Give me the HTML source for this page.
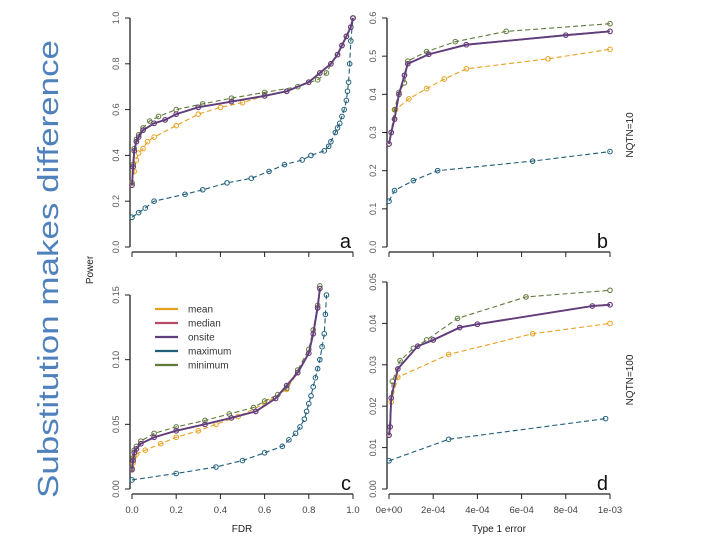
<!DOCTYPE html>
<html><head><meta charset="utf-8"><style>
body{margin:0;background:#fff;}
svg{display:block;font-family:"Liberation Sans",sans-serif;}
</style></head><body>
<svg id="chart" width="720" height="540" viewBox="0 0 720 540" xmlns="http://www.w3.org/2000/svg">
<text x="0" y="0" transform="translate(58,269) rotate(-90)" text-anchor="middle" font-size="29" fill="#4f81bd" textLength="458" lengthAdjust="spacingAndGlyphs">Substitution makes difference</text>
<text transform="translate(93,270) rotate(-90)" text-anchor="middle" font-size="10" fill="#222">Power</text>
<text x="242" y="532" text-anchor="middle" font-size="10" fill="#222">FDR</text>
<text x="499" y="532" text-anchor="middle" font-size="10" fill="#222">Type 1 error</text>
<text transform="translate(633,135) rotate(-90)" text-anchor="middle" font-size="10" fill="#222">NQTN=10</text>
<text transform="translate(633,380) rotate(-90)" text-anchor="middle" font-size="10" fill="#222">NQTN=100</text>
<g id="plots"></g>
</svg>
<script>
const seriesNames = ["mean","median","onsite","maximum","minimum"];
const seriesColors = ["#e8a020","#b84a68","#5e3f7e","#1f5f7a","#5f7a3a"];
// Panel a (FDR vs power, NQTN=10)
const aMeanX=[0,0.01,0.02,0.03,0.05,0.07,0.1,0.2,0.3,0.4,0.5,0.6,0.7,0.8,0.85,0.9,0.93,0.95,0.97,0.99,1];
const aMeanY=[0.28,0.33,0.38,0.41,0.43,0.46,0.48,0.53,0.58,0.61,0.63,0.66,0.68,0.72,0.76,0.8,0.84,0.88,0.92,0.96,1];
const aOnsiteX=[0,0.005,0.01,0.02,0.03,0.05,0.1,0.15,0.2,0.3,0.45,0.6,0.7,0.8,0.85,0.9,0.93,0.95,0.97,0.99,1];
const aOnsiteY=[0.27,0.35,0.42,0.46,0.48,0.51,0.54,0.555,0.58,0.61,0.635,0.66,0.68,0.72,0.76,0.8,0.84,0.88,0.92,0.96,1];
const aMinX=[0,0.005,0.01,0.02,0.03,0.05,0.08,0.12,0.2,0.32,0.45,0.6,0.75,0.84,0.88,0.9,0.93,0.95,0.97,0.99,1];
const aMinY=[0.28,0.36,0.43,0.47,0.49,0.52,0.55,0.57,0.6,0.625,0.65,0.675,0.7,0.73,0.76,0.8,0.84,0.88,0.92,0.96,1];
const aMaxX=[0,0.03,0.06,0.1,0.24,0.32,0.43,0.54,0.62,0.69,0.77,0.81,0.87,0.89,0.9,0.92,0.93,0.94,0.95,0.96,0.97,0.975,0.98,0.985,0.99,1];
const aMaxY=[0.13,0.15,0.17,0.2,0.23,0.25,0.28,0.3,0.33,0.36,0.38,0.4,0.42,0.44,0.46,0.5,0.52,0.54,0.57,0.6,0.64,0.68,0.72,0.8,0.9,1];
// Panel b (Type 1 error in 1e-4 units vs power, NQTN=10)
const bMeanX=[0,0.1,0.3,0.9,1.7,2.5,3.5,7.2,10];
const bMeanY=[0.27,0.3,0.36,0.388,0.415,0.44,0.467,0.493,0.518];
const bOnsiteX=[0,0.1,0.25,0.45,0.7,0.85,1.8,3.5,8,10];
const bOnsiteY=[0.27,0.3,0.335,0.4,0.45,0.48,0.505,0.53,0.555,0.565];
const bMinX=[0,0.1,0.25,0.45,0.7,0.85,1.7,3.0,5.3,10];
const bMinY=[0.27,0.3,0.36,0.405,0.43,0.487,0.512,0.538,0.565,0.585];
const bMaxX=[0,0.25,1.1,2.2,6.5,10];
const bMaxY=[0.12,0.148,0.174,0.2,0.225,0.25];
// Panel c (FDR vs power, NQTN=100)
const cMeanX=[0,0.005,0.01,0.02,0.06,0.13,0.2,0.3,0.38,0.48,0.6,0.7,0.75,0.8,0.82,0.84,0.85];
const cMeanY=[0.015,0.02,0.025,0.027,0.03,0.035,0.04,0.045,0.05,0.056,0.066,0.077,0.09,0.105,0.12,0.14,0.155];
const cOnsiteX=[0,0.005,0.01,0.02,0.04,0.1,0.2,0.33,0.45,0.56,0.65,0.7,0.75,0.8,0.82,0.84,0.85];
const cOnsiteY=[0.015,0.022,0.028,0.031,0.035,0.04,0.045,0.05,0.055,0.06,0.07,0.08,0.09,0.105,0.12,0.14,0.155];
const cMinX=[0,0.005,0.01,0.02,0.04,0.1,0.2,0.33,0.44,0.55,0.6,0.66,0.7,0.75,0.8,0.82,0.84,0.85];
const cMinY=[0.016,0.024,0.03,0.033,0.037,0.043,0.048,0.053,0.058,0.063,0.068,0.073,0.078,0.092,0.108,0.123,0.142,0.157];
const cMaxX=[0,0.2,0.38,0.5,0.6,0.68,0.71,0.74,0.76,0.78,0.79,0.8,0.81,0.82,0.83,0.84,0.85,0.86,0.87,0.875,0.88];
const cMaxY=[0.007,0.012,0.017,0.022,0.028,0.033,0.038,0.043,0.048,0.054,0.06,0.066,0.072,0.079,0.086,0.093,0.1,0.11,0.12,0.135,0.15];
// Panel d (Type 1 error in 1e-4 units vs power, NQTN=100)
const dMeanX=[0,0.1,0.4,2.7,6.5,10];
const dMeanY=[0.013,0.021,0.027,0.0325,0.0375,0.04];
const dOnsiteX=[0,0.05,0.1,0.4,1.3,2,3.2,4,9.2,10];
const dOnsiteY=[0.013,0.015,0.022,0.029,0.0345,0.036,0.039,0.0398,0.0442,0.0445];
const dMinX=[0,0.15,0.5,1.1,1.7,3.1,6.2,10];
const dMinY=[0.013,0.026,0.031,0.034,0.036,0.0412,0.0464,0.048];
const dMaxX=[0,2.7,9.8];
const dMaxY=[0.0068,0.012,0.017];
const fdrTicks=["0.0","0.2","0.4","0.6","0.8","1.0"];
const t1Ticks=["0e+00","2e-04","4e-04","6e-04","8e-04","1e-03"];
const aYTicks=["0.0","0.2","0.4","0.6","0.8","1.0"];
const bYTicks=["0.0","0.1","0.2","0.3","0.4","0.5","0.6"];
const cYTicks=["0.00","0.05","0.10","0.15"];
const dYTicks=["0.00","0.01","0.02","0.03","0.04","0.05"];

const NS="http://www.w3.org/2000/svg";
const root=document.getElementById("plots");
function mk(tag,attrs,parent){const e=document.createElementNS(NS,tag);for(const k in attrs)e.setAttribute(k,attrs[k]);parent.appendChild(e);return e;}

function panel(p){
  const g=mk("g",{},root);
  
  
  const sx=v=>p.x0+(v-p.xmin)/(p.xmax-p.xmin)*(p.x1-p.x0);
  const sy=v=>p.y0-(v-p.ymin)/(p.ymax-p.ymin)*(p.y0-p.y1);
  const ya=mk("line",{x1:p.x0-2,x2:p.x0-2,y1:sy(p.ymin),y2:sy(p.ymax),stroke:"#222","stroke-width":1.3},g);
  
  
  p.yTicks.forEach((t,i)=>{
    const v=p.ymin+i*(p.ymax-p.ymin)/(p.yTicks.length-1);
    mk("line",{x1:p.x0-7,x2:p.x0-2,y1:sy(v),y2:sy(v),stroke:"#222","stroke-width":1},g);
    const tx=mk("text",{transform:`translate(${p.x0-13},${sy(v)}) rotate(-90)`,"text-anchor":"middle","font-size":9,fill:"#555"},g);
    tx.textContent=t;
    
    
  });
  const xa=mk("line",{x1:sx(p.xmin),x2:sx(p.xmax),y1:p.y0+5,y2:p.y0+5,stroke:"#222","stroke-width":1.3},g);
  
  
  p.xTicks.forEach((t,i)=>{
    const v=p.xmin+i*(p.xmax-p.xmin)/(p.xTicks.length-1);
    mk("line",{x1:sx(v),x2:sx(v),y1:p.y0+5,y2:p.y0+10,stroke:"#222","stroke-width":1},g);
    if(p.showX){
      const tx=mk("text",{x:sx(v),y:p.y0+24,"text-anchor":"middle","font-size":9.5,fill:"#444"},g);
      tx.textContent=t;
      
      
    }
  });
  const lt=mk("text",{x:sx(p.xmax)-2,y:p.y0+1,"text-anchor":"end","font-size":20,fill:"#111"},g);
  lt.textContent=p.letter;
  
  
  const order=[3,0,4,1,2];
  order.forEach(si=>{
    const s=p.series[si];
    const pts=s.x.map((v,i)=>sx(v).toFixed(1)+","+sy(s.y[i]).toFixed(1)).join(" ");
    const solid=si===1||si===2;
    const pl=mk("polyline",{points:pts,fill:"none",stroke:seriesColors[si],"stroke-width":solid?1.8:1.1,"stroke-dasharray":solid?"":"5,3"},g);
    
    
    s.x.forEach((v,i)=>{
      const c=mk("circle",{cx:sx(v),cy:sy(s.y[i]),r:2.3,fill:"none",stroke:seriesColors[si],"stroke-width":1},g);
      
      
    });
  });
}
const S=(a,b,c,d,e,f,g,h)=>[{x:a,y:b},{x:c,y:d},{x:c,y:d},{x:g,y:h},{x:e,y:f}];
panel({letter:"a",x0:132,x1:353,y0:247,y1:18,xmin:0,xmax:1,ymin:0,ymax:1,xTicks:fdrTicks,yTicks:aYTicks,showX:false,
  series:S(aMeanX,aMeanY,aOnsiteX,aOnsiteY,aMinX,aMinY,aMaxX,aMaxY)});
panel({letter:"b",x0:389,x1:610,y0:247,y1:18,xmin:0,xmax:10,ymin:0,ymax:0.6,xTicks:t1Ticks,yTicks:bYTicks,showX:false,
  series:S(bMeanX,bMeanY,bOnsiteX,bOnsiteY,bMinX,bMinY,bMaxX,bMaxY)});
panel({letter:"c",x0:132,x1:353,y0:489,y1:295,xmin:0,xmax:1,ymin:0,ymax:0.15,xTicks:fdrTicks,yTicks:cYTicks,showX:true,
  series:S(cMeanX,cMeanY,cOnsiteX,cOnsiteY,cMinX,cMinY,cMaxX,cMaxY)});
panel({letter:"d",x0:389,x1:610,y0:489,y1:282,xmin:0,xmax:10,ymin:0,ymax:0.05,xTicks:t1Ticks,yTicks:dYTicks,showX:true,
  series:S(dMeanX,dMeanY,dOnsiteX,dOnsiteY,dMinX,dMinY,dMaxX,dMaxY)});
const lg=mk("g",{},root);


seriesNames.forEach((n,i)=>{
  const y=309+i*14;
  mk("line",{x1:155,x2:178,y1:y,y2:y,stroke:seriesColors[i],"stroke-width":2.2},lg);
  const t=mk("text",{x:188,y:y+3.5,"font-size":10,fill:"#333"},lg);
  t.textContent=n;
  
  
});
</script>
</body></html>
